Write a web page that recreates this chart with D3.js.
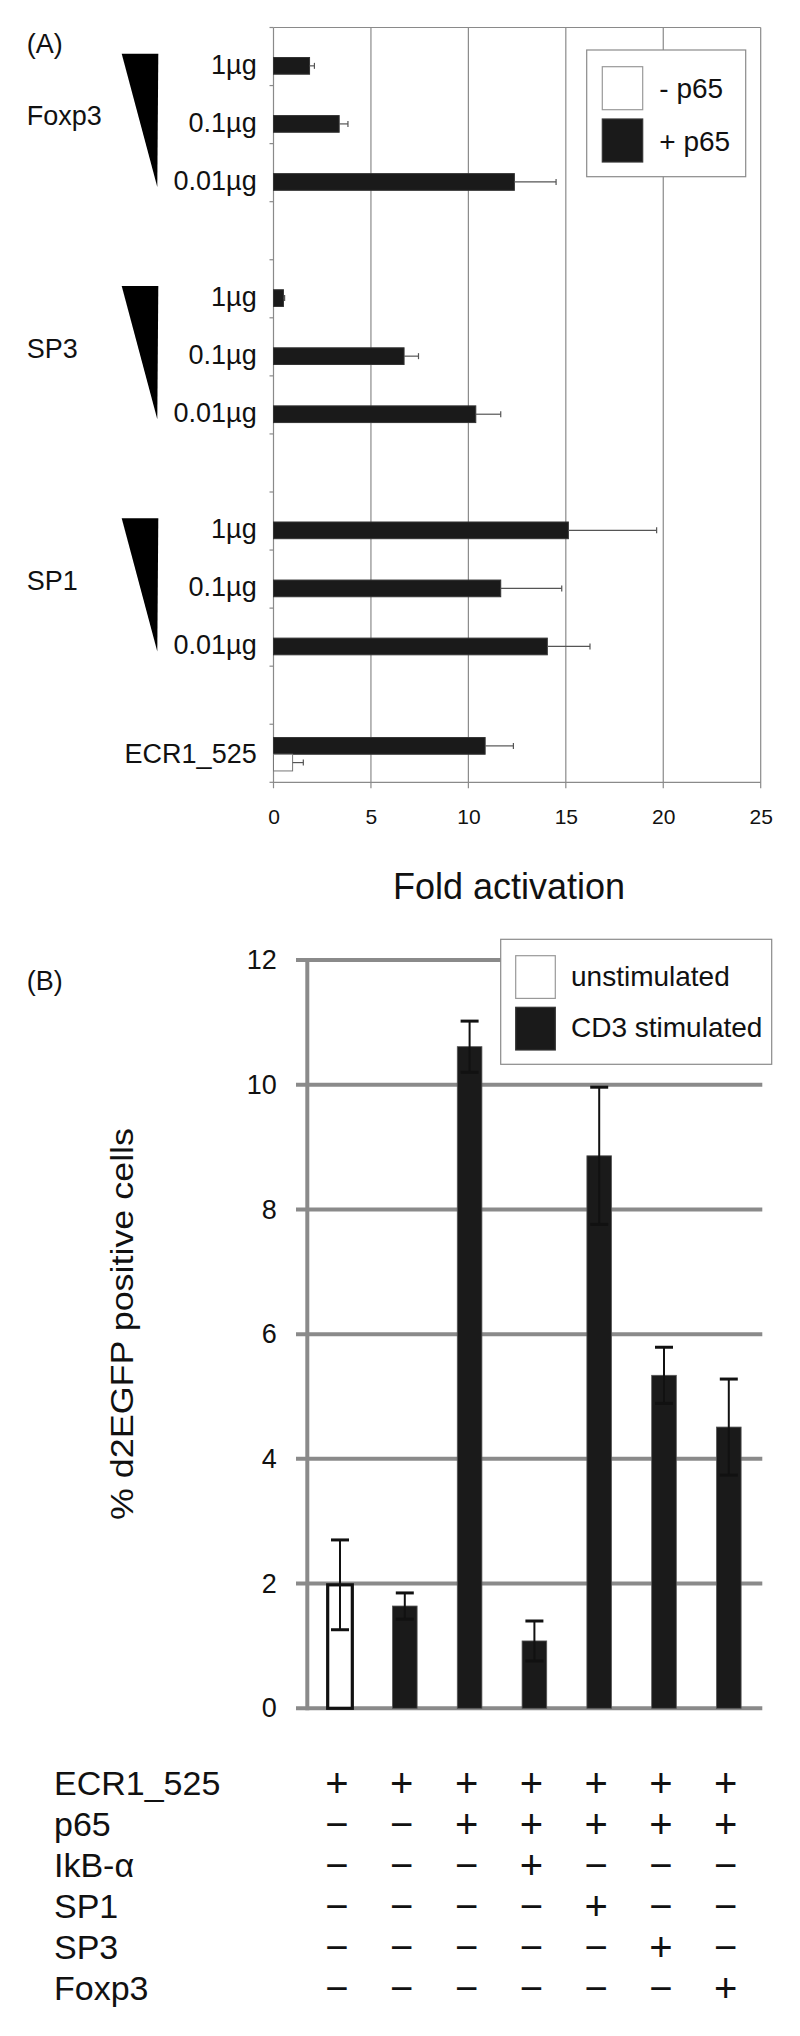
<!DOCTYPE html>
<html><head><meta charset="utf-8">
<script src="https://cdn.jsdelivr.net/npm/d3@7"></script>
<style>
body{margin:0;background:#fff}
svg{display:block}
text{font-family:"Liberation Sans",Arial,Helvetica,sans-serif;fill:#111}
</style>
</head><body>
<svg id="chart" width="800" height="2036"></svg>
<script>
// ---------- Panel A data ----------
const rowsA = ["Foxp3-1","Foxp3-0.1","Foxp3-0.01","gap1","SP3-1","SP3-0.1","SP3-0.01","gap2","SP1-1","SP1-0.1","SP1-0.01","gap3","ECR1_525"];
const rowLabelsA = ["1µg","0.1µg","0.01µg","","1µg","0.1µg","0.01µg","","1µg","0.1µg","0.01µg","","ECR1_525"];
const groupsA = ["Foxp3","SP3","SP1"];
const groupFirstRowA = ["Foxp3-1","SP3-1","SP1-1"];
const groupMidRowA = ["Foxp3-0.1","SP3-0.1","SP1-0.1"];
const groupLastRowA = ["Foxp3-0.01","SP3-0.01","SP1-0.01"];
const plusP65 =    [1.85, 3.37, 12.36, null, 0.51, 6.70, 10.38, null, 15.13, 11.66, 14.05, null, 10.86];
const plusP65Err = [0.25, 0.45, 2.14,  null, 0.06, 0.74, 1.28,  null, 4.53,  3.13,  2.19,  null, 1.45];
const minusP65 =    [null,null,null,null,null,null,null,null,null,null,null,null,0.98];
const minusP65Err = [null,null,null,null,null,null,null,null,null,null,null,null,0.55];
const ticksA = [0,5,10,15,20,25];
const legendA = ["- p65","+ p65"];
const titleAx = "Fold activation";

// ---------- Panel B data ----------
const conditionsB = ["c1","c2","c3","c4","c5","c6","c7"];
const unstimulated =    [1.98, null, null, null, null, null, null];
const unstimulatedErr = [0.72, null, null, null, null, null, null];
const cd3Stimulated =    [null, 1.64, 10.61, 1.08, 8.86, 5.34, 4.51];
const cd3StimulatedErr = [null, 0.21, 0.41,  0.32, 1.10, 0.45, 0.77];
const ticksB = [0,2,4,6,8,10,12];
const legendB = ["unstimulated","CD3 stimulated"];
const titleBy = "% d2EGFP positive cells";
const tableRows = ["ECR1_525","p65","IkB-α","SP1","SP3","Foxp3"];
const tableSigns = [
  ["+","+","+","+","+","+","+"],
  ["−","−","+","+","+","+","+"],
  ["−","−","−","+","−","−","−"],
  ["−","−","−","−","+","−","−"],
  ["−","−","−","−","−","+","−"],
  ["−","−","−","−","−","−","+"]
];

const svg = d3.select("#chart");
const GRID = "#8a8a8a";
const BAR = "#1a1a1a";

// =============== PANEL A ===============
const A = {left:273.5, right:760.7, top:27.5, bottom:782.3};
const xA = d3.scaleLinear().domain([0,25]).range([A.left, A.right]);
const yA = d3.scaleBand().domain(rowsA).range([A.top, A.bottom]);
const slotA = d3.scaleBand().domain(["upper","lower"]).range([13.3, 46.7]);
const gA = svg.append("g");

// gridlines
gA.append("g").selectAll("line").data(ticksA).join("line")
  .attr("x1", d => xA(d)).attr("x2", d => xA(d))
  .attr("y1", A.top).attr("y2", A.bottom + 6)
  .attr("stroke", GRID).attr("stroke-width", 1.2);
// top border
gA.append("line").attr("x1", A.left).attr("x2", A.right).attr("y1", A.top).attr("y2", A.top)
  .attr("stroke", GRID).attr("stroke-width", 1.2);
// bottom axis line
gA.append("line").attr("x1", A.left).attr("x2", A.right).attr("y1", A.bottom).attr("y2", A.bottom)
  .attr("stroke", GRID).attr("stroke-width", 1.2);
// left axis ticks at band edges
const edgesA = rowsA.map(r => yA(r)).concat([A.bottom]);
gA.append("g").selectAll("line").data(edgesA).join("line")
  .attr("x1", A.left - 4).attr("x2", A.left).attr("y1", d => d).attr("y2", d => d)
  .attr("stroke", GRID).attr("stroke-width", 1.2);
// x tick labels
const axA = gA.append("g").attr("transform", `translate(0,${A.bottom})`)
  .call(d3.axisBottom(xA).tickValues(ticksA).tickSize(0).tickPadding(27).tickFormat(d3.format("d")));
axA.select(".domain").remove();
axA.selectAll("text").attr("font-size", 21).attr("fill", "#111")
  .attr("font-family", '"Liberation Sans",Arial,sans-serif');

// bars: -p65 (upper? no: white in lower slot) and +p65
const rowsDataA = rowsA.map((r,i) => ({row:r, plus:plusP65[i], plusErr:plusP65Err[i], minus:minusP65[i], minusErr:minusP65Err[i]}));
const plusBars = rowsDataA.filter(d => d.plus != null).map(d => ({row:d.row, v:d.plus, e:d.plusErr, slot: d.minus != null ? "upper" : "lower", fill:BAR}));
const minusBars = rowsDataA.filter(d => d.minus != null).map(d => ({row:d.row, v:d.minus, e:d.minusErr, slot:"lower", fill:"#fff"}));
const allBarsA = plusBars.concat(minusBars);
const barY = d => yA(d.row) + slotA(d.slot);

gA.append("g").selectAll("rect").data(allBarsA).join("rect")
  .attr("x", xA(0)).attr("y", barY)
  .attr("width", d => xA(d.v) - xA(0)).attr("height", slotA.bandwidth())
  .attr("fill", d => d.fill)
  .attr("stroke", d => d.fill === "#fff" ? "#777" : "#333").attr("stroke-width", 1);
// error bars
const eA = gA.append("g").selectAll("g").data(allBarsA).join("g");
eA.append("line")
  .attr("x1", d => xA(d.v)).attr("x2", d => xA(d.v + d.e))
  .attr("y1", d => barY(d) + slotA.bandwidth()/2).attr("y2", d => barY(d) + slotA.bandwidth()/2)
  .attr("stroke", "#555").attr("stroke-width", 1.2);
eA.append("line")
  .attr("x1", d => xA(d.v + d.e)).attr("x2", d => xA(d.v + d.e))
  .attr("y1", d => barY(d) + slotA.bandwidth()/2 - 3).attr("y2", d => barY(d) + slotA.bandwidth()/2 + 3)
  .attr("stroke", "#555").attr("stroke-width", 1.2);

// row labels
const lowerCenter = r => yA(r) + slotA("lower") + slotA.bandwidth()/2;
gA.append("g").selectAll("text").data(rowsA.map((r,i) => ({r, label:rowLabelsA[i]})).filter(d => d.label))
  .join("text")
  .attr("x", 256.7)
  .attr("y", d => d.label === "ECR1_525" ? yA(d.r) + yA.bandwidth()/2 : lowerCenter(d.r) - 2)
  .attr("dy", "0.36em").attr("text-anchor", "end").attr("font-size", 27)
  .text(d => d.label);

// group labels and triangles
groupsA.forEach((g, i) => {
  gA.append("text").attr("x", 26.7).attr("y", yA(groupMidRowA[i]) + yA.bandwidth()/2 + 1)
    .attr("dy", "0.36em").attr("font-size", 27).text(g);
  const top = lowerCenter(groupFirstRowA[i]) - 12;
  const bot = lowerCenter(groupLastRowA[i]) + 5;
  gA.append("path").attr("d", `M121.7,${top} L158.3,${top} L157.3,${bot} Z`).attr("fill", "#000");
});

// panel label
svg.append("text").attr("x", 26.7).attr("y", 43.5).attr("dy", "0.36em").attr("font-size", 27).text("(A)");
// axis title
svg.append("text").attr("x", 509).attr("y", 899).attr("text-anchor", "middle").attr("font-size", 36).text(titleAx);

// legend A
const lgA = svg.append("g");
lgA.append("rect").attr("x", 586.7).attr("y", 50).attr("width", 159).attr("height", 126.7)
  .attr("fill", "#fff").attr("stroke", GRID).attr("stroke-width", 1.2);
const lgAitems = [{label:legendA[0], fill:"#fff", y:66.7}, {label:legendA[1], fill:BAR, y:119}];
lgA.selectAll("rect.sw").data(lgAitems).join("rect").attr("class","sw")
  .attr("x", 602.3).attr("y", d => d.y).attr("width", 40.4).attr("height", 43)
  .attr("fill", d => d.fill).attr("stroke", d => d.fill === "#fff" ? "#999" : "#333").attr("stroke-width", 1.2);
lgA.selectAll("text").data(lgAitems).join("text")
  .attr("x", 659.3).attr("y", d => d.y + 21.5).attr("dy", "0.36em").attr("font-size", 28)
  .text(d => d.label);

// =============== PANEL B ===============
const B = {left:307.6, right:761.2, top:960, bottom:1708.3};
const yB = d3.scaleLinear().domain([0,12]).range([B.bottom, B.top]);
const xB = d3.scaleBand().domain(conditionsB).range([B.left, B.right]).paddingInner(0.62).paddingOuter(0.31);
const gB = svg.append("g");

// gridlines
gB.append("g").selectAll("line").data(ticksB).join("line")
  .attr("x1", 296).attr("x2", 762.3).attr("y1", d => yB(d)).attr("y2", d => yB(d))
  .attr("stroke", GRID).attr("stroke-width", 4);
// y axis line
gB.append("line").attr("x1", 307.3).attr("x2", 307.3).attr("y1", yB(12) - 2).attr("y2", yB(0) + 2)
  .attr("stroke", GRID).attr("stroke-width", 4);
// tick labels
const ayB = gB.append("g").attr("transform", "translate(296,0)")
  .call(d3.axisLeft(yB).tickValues(ticksB).tickSize(0).tickPadding(19.3).tickFormat(d3.format("d")));
ayB.select(".domain").remove();
ayB.selectAll("text").attr("font-size", 27).attr("fill", "#111")
  .attr("font-family", '"Liberation Sans",Arial,sans-serif');

// y title
svg.append("text").attr("transform", "translate(133,1324) rotate(-90)")
  .attr("text-anchor", "middle").attr("font-size", 32)
  .attr("textLength", 392).attr("lengthAdjust", "spacingAndGlyphs")
  .text(titleBy);

// bars
const barsB = [];
conditionsB.forEach((c, i) => {
  if (unstimulated[i] != null) barsB.push({c, v:unstimulated[i], e:unstimulatedErr[i], type:"u"});
  if (cd3Stimulated[i] != null) barsB.push({c, v:cd3Stimulated[i], e:cd3StimulatedErr[i], type:"s"});
});
gB.append("g").selectAll("rect").data(barsB).join("rect")
  .attr("x", d => xB(d.c)).attr("width", xB.bandwidth())
  .attr("y", d => yB(d.v)).attr("height", d => yB(0) - yB(d.v))
  .attr("fill", d => d.type === "u" ? "#fff" : BAR)
  .attr("stroke", d => d.type === "u" ? "#111" : "#555")
  .attr("stroke-width", d => d.type === "u" ? 3.2 : 0.8);
// error bars
const eB = gB.append("g").selectAll("g").data(barsB).join("g");
const cxB = d => xB(d.c) + xB.bandwidth()/2;
eB.append("line").attr("x1", cxB).attr("x2", cxB)
  .attr("y1", d => yB(d.v + d.e)).attr("y2", d => yB(d.v - d.e))
  .attr("stroke", "#111").attr("stroke-width", 2);
eB.selectAll("line.cap").data(d => [d.v + d.e, d.v - d.e].map(v => ({d, v}))).join("line").attr("class","cap")
  .attr("x1", o => cxB(o.d) - 9).attr("x2", o => cxB(o.d) + 9)
  .attr("y1", o => yB(o.v)).attr("y2", o => yB(o.v))
  .attr("stroke", "#111").attr("stroke-width", 3);

// legend B
const lgB = svg.append("g");
lgB.append("rect").attr("x", 500.7).attr("y", 939.3).attr("width", 271).attr("height", 125)
  .attr("fill", "#fff").attr("stroke", GRID).attr("stroke-width", 1.2);
const lgBitems = [{label:legendB[0], fill:"#fff", y:955.7}, {label:legendB[1], fill:BAR, y:1007.3}];
lgB.selectAll("rect.sw").data(lgBitems).join("rect").attr("class","sw")
  .attr("x", 515.7).attr("y", d => d.y).attr("width", 39.6).attr("height", 42.7)
  .attr("fill", d => d.fill).attr("stroke", d => d.fill === "#fff" ? "#999" : "#333").attr("stroke-width", 1.2);
lgB.selectAll("text").data(lgBitems).join("text")
  .attr("x", 571).attr("y", d => d.y + 20).attr("dy", "0.36em").attr("font-size", 28)
  .text(d => d.label);

// panel label
svg.append("text").attr("x", 26.7).attr("y", 980).attr("dy", "0.36em").attr("font-size", 27).text("(B)");

// table
const yT = d3.scalePoint().domain(tableRows).range([1783, 1988]);
const gT = svg.append("g");
gT.selectAll("text.rl").data(tableRows).join("text").attr("class","rl")
  .attr("x", 54).attr("y", d => yT(d)).attr("dy", "0.36em").attr("font-size", 34)
  .text(d => d);
tableRows.forEach((r, ri) => {
  gT.append("g").selectAll("text").data(conditionsB.map((c, ci) => ({c, s:tableSigns[ri][ci]}))).join("text")
    .attr("x", d => xB(d.c) + xB.bandwidth()/2 - 3).attr("y", yT(r))
    .attr("dy", "0.35em").attr("text-anchor", "middle").attr("font-size", 40)
    .text(d => d.s);
});
</script>
</body></html>
